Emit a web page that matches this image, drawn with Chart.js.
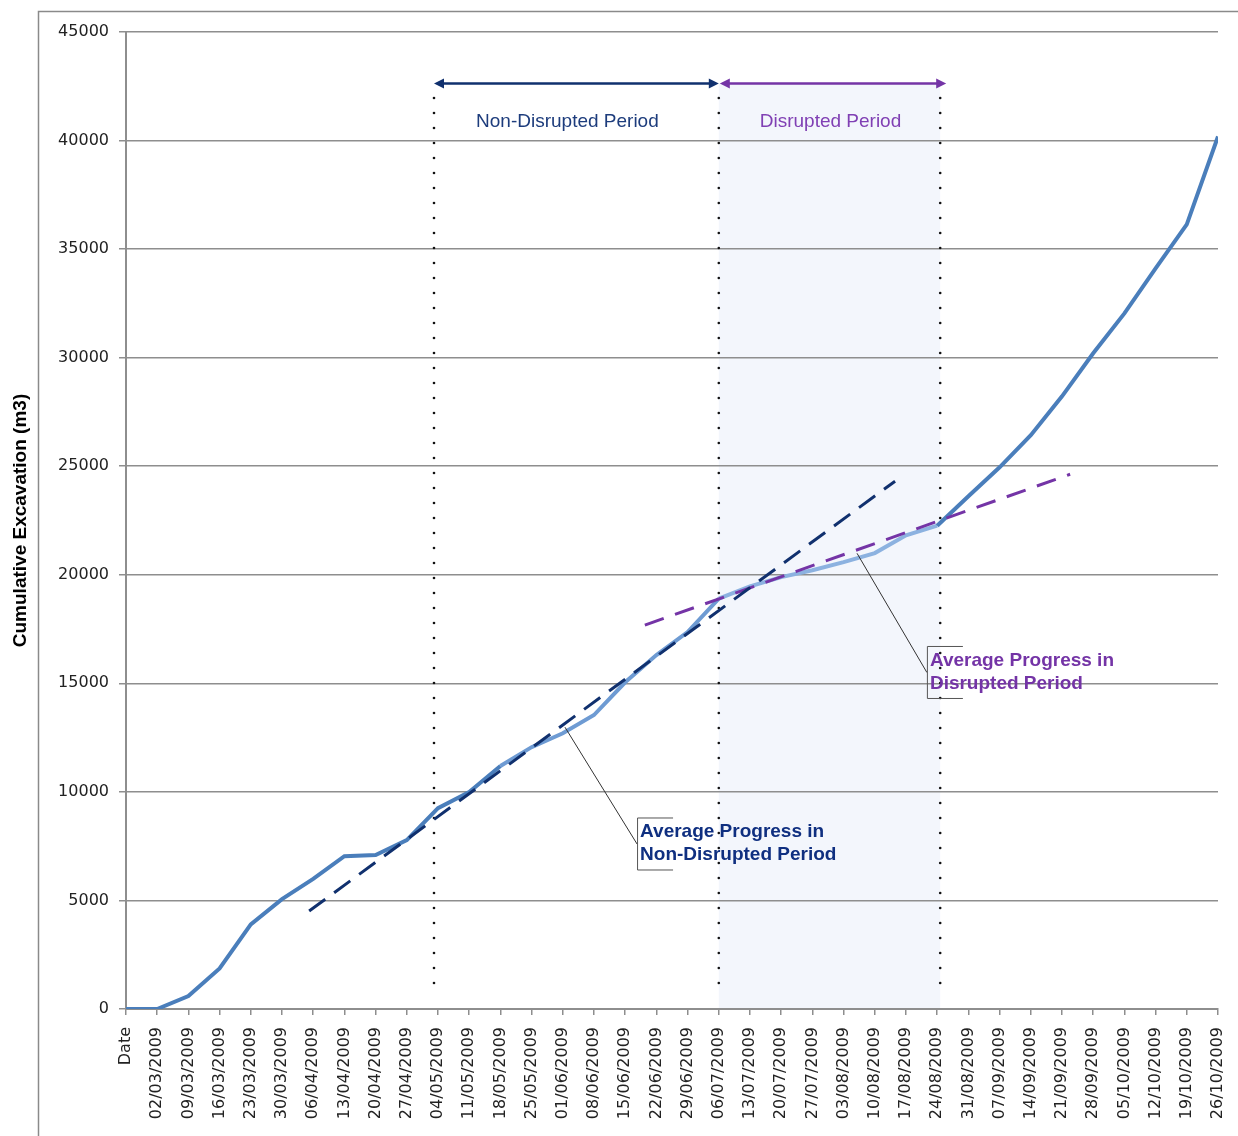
<!DOCTYPE html>
<html>
<head>
<meta charset="utf-8">
<script src="https://cdn.jsdelivr.net/npm/chart.js@4.4.1/dist/chart.umd.min.js"></script>
<style>
    html, body { margin: 0; padding: 0; background: #fff; }
</style>
</head>
<body>
<canvas id="excavationChart" width="1238" height="1136"></canvas>
<script>
// Nhãn tuần trên trục X
const weekLabels = ['Date', '02/03/2009', '09/03/2009', '16/03/2009', '23/03/2009', '30/03/2009',
    '06/04/2009', '13/04/2009', '20/04/2009', '27/04/2009', '04/05/2009', '11/05/2009',
    '18/05/2009', '25/05/2009', '01/06/2009', '08/06/2009', '15/06/2009', '22/06/2009',
    '29/06/2009', '06/07/2009', '13/07/2009', '20/07/2009', '27/07/2009', '03/08/2009',
    '10/08/2009', '17/08/2009', '24/08/2009', '31/08/2009', '07/09/2009', '14/09/2009',
    '21/09/2009', '28/09/2009', '05/10/2009', '12/10/2009', '19/10/2009', '26/10/2009'];

// Khối lượng đào tích lũy (m3)
const cumulativeExcavation = [0, 0, 600, 1870, 3900, 5060, 5990, 7040, 7090, 7780,
    9250, 9990, 11190, 12060, 12700, 13540, 15050, 16300, 17360, 18900,
    19470, 19890, 20210, 20580, 21000, 21820, 22260, 23620, 24950, 26430,
    28220, 30200, 32040, 34110, 36140, 40190];

// Đường xu hướng (chỉ số tuần, giá trị)
const nonDisruptedTrendX = [5.87, 24.65];
const nonDisruptedTrendY = [4510, 24310];
const disruptedTrendX = [16.63, 30.26];
const disruptedTrendY = [17680, 24630];

// Trục Y
const yMin = 0;
const yMax = 45000;
const yStep = 5000;

// Ranh giới các giai đoạn (chỉ số tuần)
const periodBounds = [10, 19, 26];
const periodNames = ['Non-Disrupted Period', 'Disrupted Period'];

const NAVY = '#10306e';
const PURPLE = '#7434a6';
const GRID = '#8e8e8e';
// lệch vị trí của các đường chấm so với vạch chia (giống bản gốc)
const boundShift = [-4, 0, 3];

function toPoints(xs, ys) {
    return xs.map((x, i) => ({ x: x, y: ys[i] }));
}

function arrowHead(ctx, x, y, dir, color) {
    ctx.fillStyle = color;
    ctx.beginPath();
    ctx.moveTo(x, y);
    ctx.lineTo(x - dir * 10, y - 5);
    ctx.lineTo(x - dir * 10, y + 5);
    ctx.closePath();
    ctx.fill();
}

function callout(ctx, x, y, fromX, fromY, lines, color) {
    // đường dẫn
    ctx.strokeStyle = '#333';
    ctx.lineWidth = 1;
    ctx.beginPath();
    ctx.moveTo(fromX, fromY);
    ctx.lineTo(x, y);
    ctx.stroke();
    // ngoặc khung chữ
    ctx.strokeStyle = '#555';
    ctx.beginPath();
    ctx.moveTo(x + 36, y - 26);
    ctx.lineTo(x + 0.5, y - 26);
    ctx.lineTo(x + 0.5, y + 26);
    ctx.lineTo(x + 36, y + 26);
    ctx.stroke();
    ctx.fillStyle = color;
    ctx.font = 'bold 19px "Liberation Sans", Arial, sans-serif';
    ctx.textAlign = 'left';
    ctx.textBaseline = 'middle';
    ctx.fillText(lines[0], x + 3, y - 12);
    ctx.fillText(lines[1], x + 3, y + 11);
}

const periodPlugin = {
    id: 'periodPlugin',
    beforeDraw(chart) {
        const { ctx, scales: { x, y } } = chart;
        const top = y.getPixelForValue(42630);
        ctx.save();
        ctx.fillStyle = '#f3f6fc';
        const x1 = x.getPixelForValue(periodBounds[1]) + boundShift[1];
        const x2 = x.getPixelForValue(periodBounds[2]) + boundShift[2];
        ctx.fillRect(x1, top, x2 - x1, y.getPixelForValue(0) - top);
        // khung ngoài
        ctx.strokeStyle = '#8a8a8a';
        ctx.lineWidth = 1.5;
        ctx.beginPath();
        ctx.moveTo(38.5, 1140);
        ctx.lineTo(38.5, 11.5);
        ctx.lineTo(1240, 11.5);
        ctx.stroke();
        ctx.restore();
    },
    beforeDatasetsDraw(chart) {
        const { ctx, scales: { x, y } } = chart;
        ctx.save();
        ctx.fillStyle = '#111';
        const bottom = y.getPixelForValue(0);
        periodBounds.forEach((b, i) => {
            const px = x.getPixelForValue(b) + boundShift[i];
            for (let py = 98; py < bottom - 12; py += 15) {
                ctx.beginPath();
                ctx.arc(px, py, 1.3, 0, Math.PI * 2);
                ctx.fill();
            }
        });
        ctx.restore();
    },
    afterDraw(chart) {
        const { ctx, scales: { x, y } } = chart;
        ctx.save();
        const ay = y.getPixelForValue(42630);
        const xa = x.getPixelForValue(periodBounds[0]) + boundShift[0];
        const xb = x.getPixelForValue(periodBounds[1]) + boundShift[1];
        const xc = x.getPixelForValue(periodBounds[2]) + boundShift[2];

        ctx.lineWidth = 2.5;
        ctx.strokeStyle = NAVY;
        ctx.beginPath();
        ctx.moveTo(xa + 4, ay);
        ctx.lineTo(xb - 4, ay);
        ctx.stroke();
        arrowHead(ctx, xa, ay, -1, NAVY);
        arrowHead(ctx, xb, ay, 1, NAVY);

        ctx.strokeStyle = PURPLE;
        ctx.beginPath();
        ctx.moveTo(xb + 4, ay);
        ctx.lineTo(xc, ay);
        ctx.stroke();
        arrowHead(ctx, xb + 1, ay, -1, PURPLE);
        arrowHead(ctx, xc + 6, ay, 1, PURPLE);

        ctx.font = '19px "Liberation Sans", Arial, sans-serif';
        ctx.textAlign = 'center';
        ctx.textBaseline = 'middle';
        ctx.fillStyle = '#1d3c7c';
        ctx.fillText(periodNames[0], (xa + xb) / 2 - 9, ay + 38);
        ctx.fillStyle = '#8040b4';
        ctx.fillText(periodNames[1], (xb + xc) / 2 + 1, ay + 38);

        callout(ctx, x.getPixelForValue(16.38), y.getPixelForValue(7600),
            x.getPixelForValue(14.07), y.getPixelForValue(12980),
            ['Average Progress in', 'Non-Disrupted Period'], '#0f2f80');
        callout(ctx, x.getPixelForValue(25.67), y.getPixelForValue(15500),
            x.getPixelForValue(23.43), y.getPixelForValue(20990),
            ['Average Progress in', 'Disrupted Period'], '#7434a6');
        ctx.restore();
    }
};

const ctx = document.getElementById('excavationChart').getContext('2d');
const excavationChart = new Chart(ctx, {
    type: 'line',
    data: {
        datasets: [{
            label: 'Cumulative Excavation',
            data: toPoints(weekLabels.map((_, i) => i), cumulativeExcavation),
            borderColor: '#4a7ebb',
            borderWidth: 4,
            pointRadius: 0,
            tension: 0,
            order: 3,
            segment: {
                borderColor: c => c.p0DataIndex >= periodBounds[1] && c.p0DataIndex < periodBounds[2]
                    ? '#8cb2e0'
                    : (c.p0DataIndex >= 12 && c.p0DataIndex < periodBounds[1] ? '#6e9bd3' : '#4a7ebb')
            }
        }, {
            label: 'Average Progress in Non-Disrupted Period',
            data: toPoints(nonDisruptedTrendX, nonDisruptedTrendY),
            borderColor: NAVY,
            borderWidth: 3,
            borderDash: [20, 11],
            pointRadius: 0,
            order: 1
        }, {
            label: 'Average Progress in Disrupted Period',
            data: toPoints(disruptedTrendX, disruptedTrendY),
            borderColor: PURPLE,
            borderWidth: 3,
            borderDash: [20, 12],
            pointRadius: 0,
            order: 2
        }]
    },
    options: {
        responsive: false,
        animation: false,
        devicePixelRatio: 1,
        layout: { padding: { top: 32, right: 20, left: 0, bottom: 0 } },
        plugins: {
            legend: { display: false },
            tooltip: { enabled: false }
        },
        scales: {
            x: {
                type: 'linear',
                min: 0,
                max: weekLabels.length - 1,
                afterFit: s => {
                    s.height = 127;
                    s.paddingLeft = 0;
                    s.paddingRight = 0;
                },
                afterBuildTicks: s => {
                    s.ticks = weekLabels.map((_, i) => ({ value: i }));
                },
                ticks: {
                    autoSkip: false,
                    maxRotation: 90,
                    minRotation: 90,
                    padding: 12,
                    color: '#222',
                    font: { family: '"DejaVu Sans", Verdana, sans-serif', size: 16 },
                    callback: v => weekLabels[v]
                },
                grid: { drawOnChartArea: false, color: GRID, lineWidth: 1.5, tickLength: 6 },
                border: { color: GRID, width: 2 }
            },
            y: {
                min: yMin,
                max: yMax,
                afterFit: s => { s.width = 126; },
                ticks: {
                    stepSize: yStep,
                    padding: 10,
                    color: '#222',
                    font: { family: '"DejaVu Sans", Verdana, sans-serif', size: 16 },
                    callback: v => String(v)
                },
                grid: { color: GRID, lineWidth: 1.5, tickLength: 7 },
                border: { color: GRID, width: 2 },
                title: {
                    display: true,
                    text: 'Cumulative Excavation (m3)',
                    color: '#000',
                    padding: { top: 9, bottom: 0 },
                    font: { family: '"Liberation Sans", Arial, sans-serif', size: 19, weight: 'bold' }
                }
            }
        }
    },
    plugins: [periodPlugin]
});
</script>
</body>
</html>
